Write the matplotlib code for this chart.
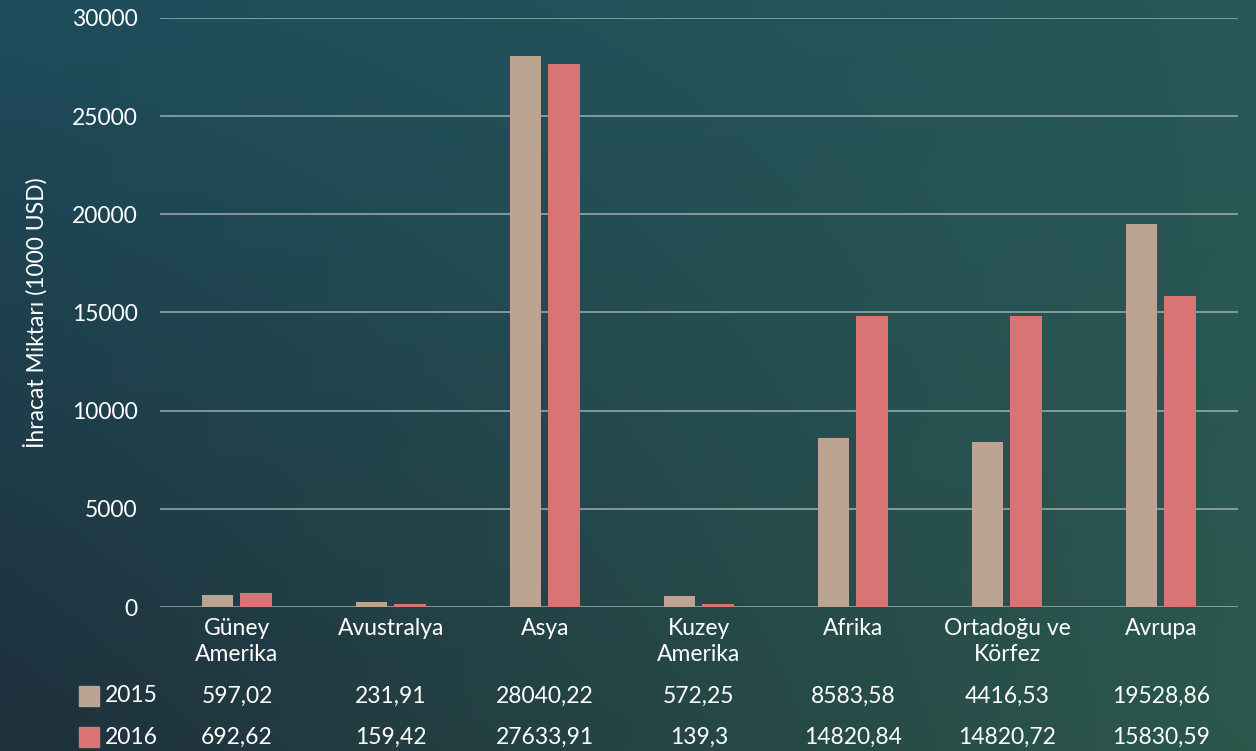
import matplotlib
matplotlib.use("Agg")
import matplotlib.pyplot as plt
import matplotlib.transforms as mtransforms
from matplotlib.patches import Rectangle
import numpy as np

plt.rcParams['font.family'] = ['Lato', 'DejaVu Sans']

# Veriler
bolgeler = ["Güney\nAmerika", "Avustralya", "Asya", "Kuzey\nAmerika",
            "Afrika", "Ortadoğu ve\nKörfez", "Avrupa"]
deger_2015 = [597.02, 231.91, 28040.22, 572.25, 8583.58, 8400, 19528.86]
deger_2016 = [692.62, 159.42, 27633.91, 139.3, 14820.84, 14820.72, 15830.59]
tablo_2015 = ["597,02", "231,91", "28040,22", "572,25", "8583,58", "4416,53", "19528,86"]
tablo_2016 = ["692,62", "159,42", "27633,91", "139,3", "14820,84", "14820,72", "15830,59"]
y_ticks = [0, 5000, 10000, 15000, 20000, 25000, 30000]

renk_2015 = "#bba592"
renk_2016 = "#d97474"
yazi = "#ffffff"
fs = 16.5

W, H = 1256, 751
fig = plt.figure(figsize=(W / 100, H / 100), dpi=100)

# Arka plan degrade
bg = fig.add_axes([0, 0, 1, 1], zorder=-10)
tl = np.array([30, 76, 92]) / 255
tr = np.array([40, 88, 88]) / 255
bl = np.array([30, 48, 60]) / 255
br = np.array([44, 88, 76]) / 255
yy, xx = np.mgrid[0:1:200j, 0:1:300j]
img = (tl * ((1 - xx) * (1 - yy))[..., None] + tr * (xx * (1 - yy))[..., None]
       + bl * ((1 - xx) * yy)[..., None] + br * (xx * yy)[..., None])
bg.imshow(img, aspect="auto", extent=[0, 1, 0, 1], interpolation="bicubic")
bg.axis("off")

ax = fig.add_axes([160 / W, 1 - 607 / H, (1238 - 160) / W, (607 - 18) / H])
ax.patch.set_alpha(0)

x = np.arange(len(bolgeler))
w = 0.205
ax.bar(x - 0.128, deger_2015, w, color=renk_2015, zorder=3)
ax.bar(x + 0.125, deger_2016, w, color=renk_2016, zorder=3)

ax.set_xlim(-0.5, len(bolgeler) - 0.5)
ax.set_ylim(0, 30000)
ax.set_yticks(y_ticks)
ax.set_yticklabels([str(t) for t in y_ticks], color=yazi, fontsize=fs)
ax.tick_params(axis="y", length=0, pad=16)
ax.grid(axis="y", color="#b0c0c0", linewidth=1.1, alpha=0.85, zorder=0)
ax.set_axisbelow(True)
for s in ax.spines.values():
    s.set_visible(False)
ax.set_xticks(x)
ax.set_xticklabels(bolgeler, color=yazi, fontsize=fs, linespacing=1.3, va="top")
ax.tick_params(axis="x", length=0, pad=8)

ax.set_ylabel("İhracat Miktarı (1000 USD)", color=yazi, fontsize=fs)
ax.yaxis.set_label_coords(-0.104, 0.5)

# Tablo satirlari
tr_ = mtransforms.blended_transform_factory(ax.transData, fig.transFigure)
y1 = 1 - 696 / H
y2 = 1 - 737 / H
for i in range(len(bolgeler)):
    ax.text(x[i], y1, tablo_2015[i], transform=tr_, ha="center", va="center",
            color=yazi, fontsize=fs)
    ax.text(x[i], y2, tablo_2016[i], transform=tr_, ha="center", va="center",
            color=yazi, fontsize=fs)

for yy_, renk, etiket in [(y1, renk_2015, "2015"), (y2, renk_2016, "2016")]:
    fig.patches.append(Rectangle((79 / W, yy_ - 10 / H), 20 / W, 20 / H,
                                 transform=fig.transFigure, color=renk))
    fig.text(105 / W, yy_, etiket, ha="left", va="center", color=yazi, fontsize=fs)

fig.savefig("out.png", dpi=100)
